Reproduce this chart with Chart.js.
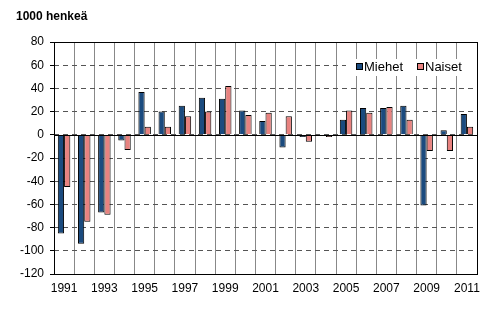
<!DOCTYPE html>
<html>
<head>
<meta charset="utf-8">
<script src="https://cdn.jsdelivr.net/npm/chart.js@4"></script>
<style>
  html, body { margin: 0; padding: 0; background: #fff; }
  #wrap { width: 502px; height: 323px; position: relative; }
</style>
</head>
<body>
<div id="wrap"><canvas id="canvas" width="502" height="323"></canvas></div>
<script>
var years = ['1991', '1992', '1993', '1994', '1995', '1996', '1997', '1998', '1999', '2000',
	'2001', '2002', '2003', '2004', '2005', '2006', '2007', '2008', '2009', '2010', '2011'];
var miehet = [-85, -94, -67, -5, 37, 20, 25, 32, 31, 21, 12, -11, -2, 0.5, 13, 23, 23, 25, -61, 4, 18];
var naiset = [-45, -75, -69, -13, 7, 7, 16, 20, 42, 17, 19, 16, -6, -2, 21, 19, 24, 13, -14, -14, 7];
var yTicks = [-120, -100, -80, -60, -40, -20, 0, 20, 40, 60, 80];

var blue = '#1b4b7f';
var pink = '#e8827f';
var font = 'Arial, "Liberation Sans", sans-serif';

// otsikko, nollaviiva, kehys ja selite kuvaajan päälle
var extras = {
	id : 'extras',
	afterDraw : function(chart) {
		var ctx = chart.ctx, a = chart.chartArea;
		var y = chart.scales.y;
		ctx.save();
		ctx.fillStyle = '#000';
		ctx.font = 'bold 12px ' + font;
		ctx.textBaseline = 'middle';
		ctx.textAlign = 'left';
		ctx.fillText('1000 henkeä', 16, 17);

		// nollaviiva
		var y0 = Math.round(y.getPixelForValue(0)) + 0.5;
		ctx.strokeStyle = '#000';
		ctx.lineWidth = 1;
		ctx.beginPath();
		ctx.moveTo(a.left, y0);
		ctx.lineTo(a.right, y0);
		ctx.stroke();

		// kehys
		ctx.strokeRect(Math.round(a.left) + 0.5, Math.round(a.top) + 0.5,
			Math.round(a.right - a.left), Math.round(a.bottom - a.top));

		// selite
		var ly = a.top + 25;
		ctx.fillStyle = '#fff';
		ctx.fillRect(a.right - 131, ly - 8, 129, 17);
		ctx.font = '13px ' + font;
		var x = a.right - 121;
		chart.data.datasets.forEach(function(ds) {
			ctx.fillStyle = ds.backgroundColor;
			ctx.fillRect(x + 0.5, ly - 3.5, 6, 6);
			ctx.strokeStyle = '#000';
			ctx.strokeRect(x + 0.5, ly - 3.5, 6, 6);
			ctx.fillStyle = '#000';
			ctx.fillText(ds.label, x + 8, ly);
			x += 61;
		});
		ctx.restore();
	}
};

window.onload = function() {
	var ctx = document.getElementById('canvas').getContext('2d');
	window.myBar = new Chart(ctx, {
		type : 'bar',
		data : {
			labels : years,
			datasets : [ {
				label : 'Miehet',
				data : miehet,
				backgroundColor : blue,
				borderColor : '#000',
				borderWidth : 1
			}, {
				label : 'Naiset',
				data : naiset,
				backgroundColor : pink,
				borderColor : '#000',
				borderWidth : 1
			} ]
		},
		options : {
			responsive : false,
			animation : false,
			layout : {
				padding : { top : 42, right : 25, left : 0, bottom : 0 }
			},
			plugins : {
				legend : { display : false },
				tooltip : { enabled : false }
			},
			datasets : {
				bar : { categoryPercentage : 0.62, barPercentage : 1.0 }
			},
			scales : {
				x : {
					grid : {
						offset : true,
						color : '#888',
						lineWidth : 1,
						drawTicks : false
					},
					border : { display : false },
					ticks : {
						color : '#000',
						font : { family : font, size : 12 },
						padding : 7,
						maxRotation : 0,
						autoSkip : false,
						callback : function(v, i) {
							return i % 2 === 0 ? years[i] : '';
						}
					},
					afterFit : function(s) { s.height = 49; }
				},
				y : {
					min : -120,
					max : 80,
					afterBuildTicks : function(s) {
						s.ticks = yTicks.map(function(v) { return { value : v }; });
					},
					grid : {
						color : '#555',
						lineWidth : 1,
						tickLength : 4,
						tickColor : '#000',
						tickBorderDash : []
					},
					border : { display : false, dash : [5, 4] },
					ticks : {
						color : '#000',
						font : { family : font, size : 12 },
						padding : 6
					},
					afterFit : function(s) { s.width = 54; }
				}
			}
		},
		plugins : [ extras ]
	});
};
</script>
</body>
</html>
